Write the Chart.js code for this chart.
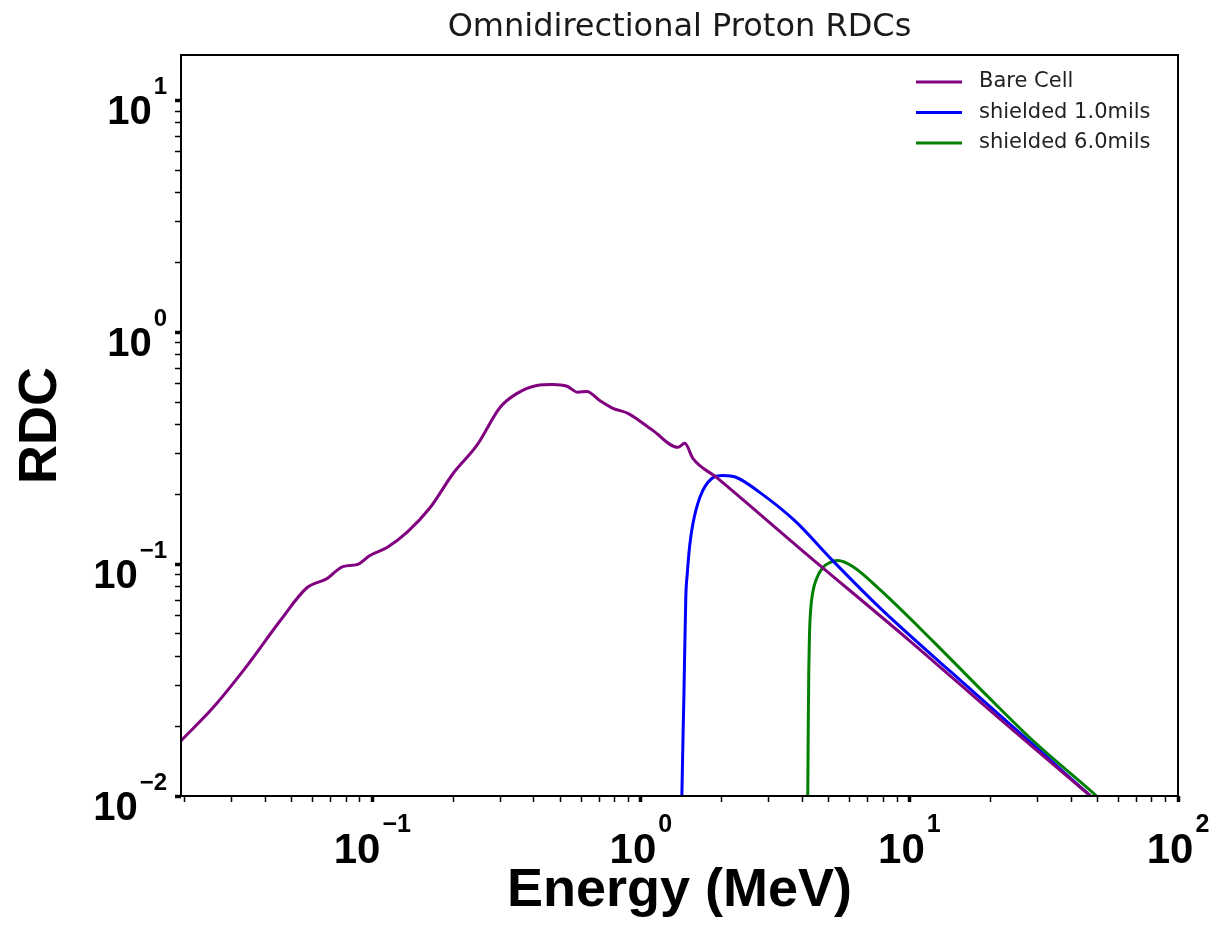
<!DOCTYPE html>
<html>
<head>
<meta charset="utf-8">
<script src="https://cdn.jsdelivr.net/npm/chart.js@4.4.0/dist/chart.umd.min.js"></script>
<style>
  html, body { margin: 0; padding: 0; background: #fff; }
  canvas { display: block; }
</style>
</head>
<body>
<canvas id="chart" width="1210" height="933"></canvas>
<script>
// values (energy in MeV, RDC)
const seriesLabels = ['Bare Cell', 'shielded 1.0mils', 'shielded 6.0mils'];
const seriesColors = ['#800080', '#0000ff', '#008000'];

const bareEnergy = [0.0194, 0.0255, 0.0342, 0.0454, 0.0571, 0.0678, 0.0778, 0.0877, 0.098, 0.1135,
  0.1346, 0.164, 0.2, 0.245, 0.299, 0.346, 0.41, 0.47, 0.531, 0.583,
  0.63, 0.703, 0.787, 0.895, 1.109, 1.373, 1.458, 1.562, 1.918, 3.91,
  10, 21.7, 47.7, 55];
const bareRdc = [0.0173, 0.024, 0.0365, 0.057, 0.0791, 0.0866, 0.0976, 0.0995, 0.109, 0.118,
  0.137, 0.175, 0.246, 0.325, 0.474, 0.545, 0.59, 0.596, 0.585, 0.551,
  0.556, 0.508, 0.47, 0.447, 0.377, 0.319, 0.332, 0.286, 0.236, 0.1167,
  0.0468, 0.0215, 0.0099, 0.0086];

const shield1Energy = [1.418, 1.421, 1.446, 1.47, 1.49, 1.52, 1.56, 1.658, 1.837, 2.02,
  2.26, 2.77, 3.74, 5.18, 7.82, 14.1, 25.5, 47.7, 55];
const shield1Rdc = [0.008, 0.0099, 0.0265, 0.0717, 0.092, 0.12, 0.148, 0.194, 0.234, 0.241,
  0.237, 0.204, 0.154, 0.1036, 0.0643, 0.0347, 0.0189, 0.0099, 0.0086];

const shield6Energy = [4.17, 4.183, 4.2, 4.22, 4.245, 4.29, 4.37, 4.5, 4.75, 5.05,
  5.41, 6.15, 7.82, 12.2, 18.9, 29.5, 50.2, 57];
const shield6Rdc = [0.008, 0.0099, 0.02, 0.035, 0.05, 0.064, 0.076, 0.086, 0.0965, 0.1015,
  0.1036, 0.0977, 0.077, 0.0467, 0.028, 0.0169, 0.0099, 0.0086];

// axis ranges and decade labels
const xMin = 0.0194, xMax = 100;
const yMin = 0.01, yMax = 15.7;
const xMajorExps = [-1, 0, 1, 2];
const yMajorExps = [-2, -1, 0, 1];

const toPoints = (xs, ys) => xs.map((x, i) => ({ x: x, y: ys[i] }));

function logTicks(min, max) {
  const out = [];
  for (let e = -3; e <= 3; e++) {
    for (let s = 1; s <= 9; s++) {
      const v = Number((s * Math.pow(10, e)).toPrecision(12));
      if (v >= min * 0.9999 && v <= max * 1.0001) out.push({ value: v, major: s === 1 });
    }
  }
  return out;
}

function supLabel(exp) {
  return exp < 0 ? '\u2212' + Math.abs(exp) : String(exp);
}

const whiteBg = {
  id: 'whiteBg',
  beforeDraw(chart) {
    const c = chart.ctx;
    c.save();
    c.fillStyle = '#fff';
    c.fillRect(0, 0, chart.width, chart.height);
    c.restore();
  }
};

// frame, decade labels with raised exponents, and legend inside the axes
const decor = {
  id: 'decor',
  afterDraw(chart) {
    const c = chart.ctx;
    const a = chart.chartArea;
    const xs = chart.scales.x, ys = chart.scales.y;
    c.save();
    c.strokeStyle = '#000';
    c.lineWidth = 2;
    c.strokeRect(a.left, a.top, a.right - a.left, a.bottom - a.top);

    c.fillStyle = '#000';
    c.textBaseline = 'alphabetic';
    c.textAlign = 'left';
    // x labels
    xMajorExps.forEach(e => {
      const px = xs.getPixelForValue(Math.pow(10, e));
      const sup = supLabel(e);
      c.font = 'bold 42px "Liberation Sans", Arial, sans-serif';
      const w1 = c.measureText('10').width;
      c.font = 'bold 25px "Liberation Sans", Arial, sans-serif';
      const w2 = c.measureText(sup).width;
      const x0 = px - (w1 + 2 + w2) / 2;
      c.font = 'bold 42px "Liberation Sans", Arial, sans-serif';
      c.fillText('10', x0, a.bottom + 67);
      c.font = 'bold 25px "Liberation Sans", Arial, sans-serif';
      c.fillText(sup, x0 + w1 + 2, a.bottom + 36);
    });
    // y labels
    yMajorExps.forEach(e => {
      const py = ys.getPixelForValue(Math.pow(10, e));
      const sup = supLabel(e);
      c.font = 'bold 40px "Liberation Sans", Arial, sans-serif';
      const w1 = c.measureText('10').width;
      c.font = 'bold 24px "Liberation Sans", Arial, sans-serif';
      const w2 = c.measureText(sup).width;
      const x0 = a.left - 14 - (w1 + 2 + w2);
      c.font = 'bold 40px "Liberation Sans", Arial, sans-serif';
      c.fillText('10', x0, py + 24);
      c.font = 'bold 24px "Liberation Sans", Arial, sans-serif';
      c.fillText(sup, x0 + w1 + 2, py - 6);
    });

    // legend
    c.font = '21px "DejaVu Sans", sans-serif';
    c.textBaseline = 'middle';
    chart.data.datasets.forEach((ds, i) => {
      const y = a.top + 27 + i * 30.5;
      c.strokeStyle = ds.borderColor;
      c.lineWidth = 3;
      c.beginPath();
      c.moveTo(a.right - 262, y);
      c.lineTo(a.right - 216, y);
      c.stroke();
      c.fillStyle = '#222';
      c.fillText(ds.label, a.right - 199, y);
    });
    c.restore();
  }
};

const datasets = [
  { label: seriesLabels[0], data: toPoints(bareEnergy, bareRdc), borderColor: seriesColors[0] },
  { label: seriesLabels[1], data: toPoints(shield1Energy, shield1Rdc), borderColor: seriesColors[1] },
  { label: seriesLabels[2], data: toPoints(shield6Energy, shield6Rdc), borderColor: seriesColors[2] }
].map(d => Object.assign(d, {
  borderWidth: 3,
  pointRadius: 0,
  fill: false,
  cubicInterpolationMode: 'monotone'
}));

const tickGrid = {
  drawOnChartArea: false,
  drawTicks: true,
  tickLength: 6,
  tickColor: '#000',
  tickWidth: ctx => (ctx.tick && ctx.tick.major ? 3.5 : 1.5)
};

new Chart(document.getElementById('chart').getContext('2d'), {
  type: 'line',
  data: { datasets: datasets },
  options: {
    responsive: false,
    devicePixelRatio: 1,
    animation: false,
    layout: { padding: { left: 0, right: 32, top: 0, bottom: 0 } },
    plugins: {
      legend: { display: false },
      tooltip: { enabled: false },
      title: {
        display: true,
        fullSize: false,
        text: 'Omnidirectional Proton RDCs',
        color: '#1a1a1a',
        font: { family: '"DejaVu Sans", sans-serif', size: 32, weight: 'normal', lineHeight: 1.2 },
        padding: { top: 8, bottom: 8.6 }
      }
    },
    scales: {
      x: {
        type: 'logarithmic',
        min: xMin,
        max: xMax,
        border: { display: false },
        grid: tickGrid,
        ticks: { display: false, autoSkip: false },
        afterBuildTicks: s => { s.ticks = logTicks(xMin, xMax); },
        afterFit: s => { s.height = 137; },
        title: {
          display: true,
          text: 'Energy (MeV)',
          color: '#000',
          font: { family: '"Liberation Sans", Arial, sans-serif', size: 54, weight: 'bold', lineHeight: 1.2 },
          padding: { top: 0, bottom: 9.3 }
        }
      },
      y: {
        type: 'logarithmic',
        min: yMin,
        max: yMax,
        border: { display: false },
        grid: tickGrid,
        ticks: { display: false, autoSkip: false },
        afterBuildTicks: s => { s.ticks = logTicks(yMin, yMax); },
        afterFit: s => { s.width = 181; },
        title: {
          display: true,
          text: 'RDC',
          color: '#000',
          font: { family: '"Liberation Sans", Arial, sans-serif', size: 54, weight: 'bold', lineHeight: 1.2 },
          padding: { top: 9, bottom: 0 }
        }
      }
    }
  },
  plugins: [whiteBg, decor]
});
</script>
</body>
</html>
